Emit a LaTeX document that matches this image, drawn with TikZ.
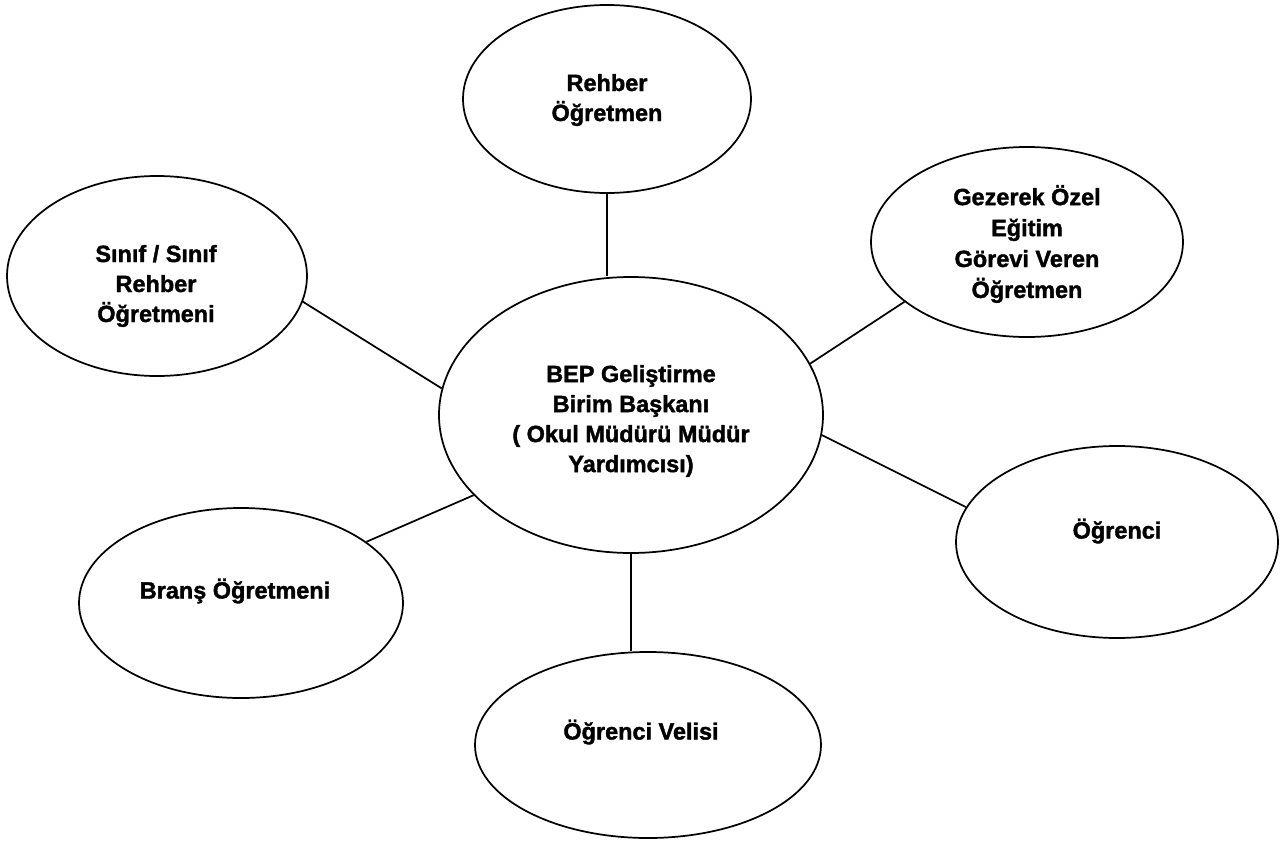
\documentclass[tikz,border=0pt]{standalone}
\usepackage{fontspec}
\setmainfont{Liberation Sans}[BoldFeatures={FakeBold=1.6}]
\usetikzlibrary{shapes.geometric}
\begin{document}
\begin{tikzpicture}[x=0.75pt,y=-0.75pt,
  ell/.style 2 args={draw, ellipse, line width=1.3pt, inner sep=0pt,
    minimum width=#1*0.75pt, minimum height=#2*0.75pt},
  lbl/.style={align=center, font=\bfseries\fontsize{17.6}{22.5}\selectfont, inner sep=0pt},
  conn/.style={line width=1.3pt}]
\useasboundingbox (0,0) rectangle (1286,846);
% ellipses
\node[ell={288}{188}] (top)    at (607,99)  {};
\node[ell={300}{200}] (left)   at (157,276) {};
\node[ell={312}{190}] (gez)    at (1027,242) {};
\node[ell={384}{276}] (center) at (631,415) {};
\node[ell={322}{192}] (ogr)    at (1117,542) {};
\node[ell={324}{190}] (brans)  at (241,603) {};
\node[ell={346}{186}] (veli)   at (648,745) {};
% labels
\node[lbl] (topt)    at (607,100) {Rehber\\Öğretmen};
\node[lbl] (leftt)   at (156,286) {Sınıf / Sınıf\\Rehber\\Öğretmeni};
\node[lbl,font=\bfseries\fontsize{17.6}{23.2}\selectfont] (gezt) at (1027,244) {Gezerek Özel\\Eğitim\\Görevi Veren\\Öğretmen};
\node[lbl] (centert) at (631,421) {BEP Geliştirme\\Birim Başkanı\\( Okul Müdürü Müdür\\Yardımcısı)};
\node[lbl] (ogrt)    at (1117,531) {Öğrenci};
\node[lbl] (branst)  at (235,591) {Branş Öğretmeni};
\node[lbl] (velit)   at (641,732) {Öğrenci Velisi};
% connectors
\draw[conn] (top.south) -- (top.south |- center.north);
\draw[conn] (left.-10) -- (center.172);
\draw[conn] (center.16) -- (gez.206);
\draw[conn] (center.-6) -- (ogr.167);
\draw[conn] (center.207) -- (brans.26);
\draw[conn] (center.south) -- (center.south |- veli.north);
\end{tikzpicture}
\end{document}
